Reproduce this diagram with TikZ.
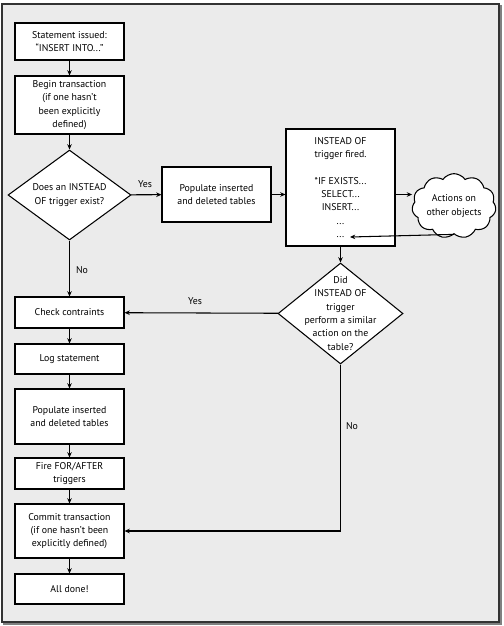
\documentclass[tikz,border=0pt]{standalone}
\usepackage{fontspec}
\setmainfont{PT Sans}
\usetikzlibrary{arrows.meta,shapes.geometric,shapes.symbols,positioning}
\definecolor{panel}{HTML}{EBEBEB}
\tikzset{
    box/.style={draw, fill=white, line width=0.6pt, minimum width=2.18cm, inner sep=1pt, align=center},
    decision/.style={diamond, draw, fill=white, line width=0.6pt, inner sep=0pt},
    puff/.style={cloud, draw, fill=white, line width=0.6pt, cloud puffs=11, cloud puff arc=110, aspect=1.4, inner sep=0pt, align=center},
    edge/.style={draw, line width=0.6pt, -{Stealth[length=3pt, width=2.6pt]}},
    line/.style={draw, line width=0.6pt},
    lbl/.style={inner sep=1pt}
}

\begin{document}
\begin{tikzpicture}[x=0.02cm, y=-0.02cm, font=\fontsize{5.6}{7.6}\selectfont]
    \useasboundingbox (0,0) rectangle (504,626);
    % panel
    \draw[gray, line width=1.2pt] (4,6) rectangle (501,624);
    \draw[fill=panel, draw=black!80, line width=0.9pt] (2,4) rectangle (499,622);

    % Nodes
    \node[box, minimum height=0.74cm] (issued) at (69.5,41.5) {Statement issued:\\``INSERT INTO...''};
    \node[box, minimum height=1.16cm] (begin) at (69.5,105) {Begin transaction\\(if one hasn't\\been explicitly\\defined)};
    \node[decision, minimum width=2.46cm, minimum height=1.8cm] (exists) at (69.5,195) {};
    \node[align=center] (existstxt) at (exists) {Does an INSTEAD\\OF trigger exist?};
    \node[box, minimum height=1.1cm] (popA) at (216.5,194.5) {Populate inserted\\and deleted tables};
    \node[box, minimum height=2.34cm] (fired) at (340.5,187.5) {INSTEAD OF\\trigger fired.\\[7.6pt]*IF EXISTS...\\SELECT...\\INSERT...\\...\\...};
    \node[puff, minimum width=1.68cm, minimum height=1.24cm] (other) at (454,206) {Actions on\\other objects};
    \coordinate (dots) at (350,237);
    \node[decision, minimum width=2.5cm, minimum height=2.02cm] (similar) at (340.5,313.5) {};
    \node[align=center] (similartxt) at (similar) {Did\\INSTEAD OF\\trigger\\perform a similar\\action on the\\table?};
    \node[box, minimum height=0.62cm] (check) at (69.5,312.5) {Check contraints};
    \node[box, minimum height=0.6cm] (log) at (69.5,359) {Log statement};
    \node[box, minimum height=1.1cm] (popB) at (69.5,416.5) {Populate inserted\\and deleted tables};
    \node[box, minimum height=0.62cm] (fire) at (69.5,473.5) {Fire FOR/AFTER\\triggers};
    \node[box, minimum height=1.08cm] (commit) at (69.5,531) {Commit transaction\\(if one hasn't been\\explicitly defined)};
    \node[box, minimum height=0.6cm] (done) at (69.5,589) {All done!};

    % edges
    \draw[edge] (issued) -- (begin);
    \draw[edge] (begin) -- (exists);
    \draw[edge] (exists) -- (popA);
    \draw[edge] (popA) -- (popA -| fired.west);
    \draw[edge] (popA -| fired.east) -- (popA -| other.west);
    \draw[edge] (other.south) -- (dots);
    \draw[edge] (fired) -- (similar);
    \draw[edge] (similar) -- (check);
    \draw[edge] (exists) -- (check);
    \draw[edge] (similar.south) |- (commit.east);
    \draw[edge] (check) -- (log);
    \draw[edge] (log) -- (popB);
    \draw[edge] (popB) -- (fire);
    \draw[edge] (fire) -- (commit);
    \draw[edge] (commit) -- (done);

    % labels
    \node[lbl] (yesA) at (145,184) {Yes};
    \node[lbl] (yesB) at (195,301) {Yes};
    \node[lbl] (noA) at (82,270) {No};
    \node[lbl] (noB) at (352,426) {No};
\end{tikzpicture}
\end{document}
